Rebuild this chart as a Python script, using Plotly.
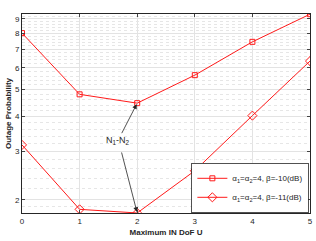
import math
import plotly.graph_objects as go

x_vals = [0, 1, 2, 3, 4, 5]
beta10 = [8.0e-5, 4.81e-5, 4.47e-5, 5.64e-5, 7.44e-5, 9.36e-5]
beta11 = [3.16e-5, 1.85e-5, 1.795e-5, 2.55e-5, 4.03e-5, 6.34e-5]
y_ticks = [2e-5, 3e-5, 4e-5, 5e-5, 6e-5, 7e-5, 8e-5, 9e-5]
y_ticktext = ["2", "3", "4", "5", "6", "7", "8", "9"]
names = ["α<sub>1</sub>=α<sub>2</sub>=4, β=-10(dB)", "α<sub>1</sub>=α<sub>2</sub>=4, β=-11(dB)"]

minor_vals = []
for i in range(len(y_ticks) - 1):
    a, b = y_ticks[i], y_ticks[i + 1]
    for k in range(1, 5):
        minor_vals.append(a + (b - a) * k / 5)
minor_vals += [1.8e-5, 1.9e-5, 9.2e-5]

red = "#ff1a1a"
ff = "Liberation Sans, Arial, sans-serif"
yr = [-4.746, -4.028]
fig = go.Figure()
fig.add_trace(go.Scatter(x=x_vals, y=beta10, mode="lines+markers", name=names[0],
                         line=dict(color=red, width=1),
                         marker=dict(symbol="square-open", size=5, color=red, line=dict(width=1))))
fig.add_trace(go.Scatter(x=x_vals, y=beta11, mode="lines+markers", name=names[1],
                         line=dict(color=red, width=1),
                         marker=dict(symbol="diamond-open", size=7, color=red, line=dict(width=1))))

font = dict(family=ff, size=8, color="#262626")

fig.update_layout(
    width=316, height=241,
    margin=dict(l=22, r=3, t=14, b=28),
    paper_bgcolor="white", plot_bgcolor="white",
    font=font,
    showlegend=True,
    legend=dict(x=0.995, y=0.0, xanchor="right", yanchor="bottom",
                bordercolor="#262626", borderwidth=0.8, bgcolor="white",
                font=dict(size=8, family=ff),
                tracegroupgap=0, itemwidth=30),
    xaxis=dict(range=[0, 5], tickvals=x_vals, ticks="inside", ticklen=3,
               showline=True, linecolor="#262626", linewidth=0.8, mirror="ticks",
               showgrid=True, gridcolor="#e3e3e3", gridwidth=1, zeroline=False,
               title=dict(text="<b>Maximum IN DoF U</b>", standoff=4, font=dict(size=8, family=ff)),
               tickfont=dict(size=8)),
    yaxis=dict(type="log", range=yr, tickvals=y_ticks, ticktext=y_ticktext,
               ticks="inside", ticklen=3,
               showline=True, linecolor="#262626", linewidth=0.8, mirror="ticks",
               showgrid=True, gridcolor="#e3e3e3", gridwidth=1, zeroline=False,
               title=dict(text="<b>Outage Probability</b>", standoff=2, font=dict(size=8, family=ff)),
               tickfont=dict(size=8)),
    yaxis2=dict(type="log", range=yr, overlaying="y", side="left", tickvals=minor_vals,
                showticklabels=False, ticks="", showline=False, zeroline=False,
                showgrid=True, gridcolor="#e6e6e6", griddash="dot", gridwidth=1),
)
fig.add_trace(go.Scatter(x=[x_vals[0]], y=[beta10[0]], yaxis="y2", mode="markers",
                         marker=dict(opacity=0), showlegend=False, hoverinfo="skip"))

fig.add_annotation(x=2, y=math.log10(beta10[2]), xref="x", yref="y",
                   text="N<sub>1</sub>-N<sub>2</sub>", showarrow=True,
                   arrowhead=2, arrowsize=1.2, arrowwidth=0.8, arrowcolor="#262626",
                   ax=-19, ay=37, standoff=1, font=dict(size=9, color="#262626", family=ff))
fig.add_annotation(x=2, y=math.log10(beta11[2]), xref="x", yref="y",
                   text="", showarrow=True,
                   arrowhead=2, arrowsize=1.2, arrowwidth=0.8, arrowcolor="#262626",
                   ax=-16, ay=-62, standoff=1)

fig.write_html("out.html", config={"displayModeBar": False},
               post_script="document.body.style.margin='0';document.body.style.overflow='hidden';")
